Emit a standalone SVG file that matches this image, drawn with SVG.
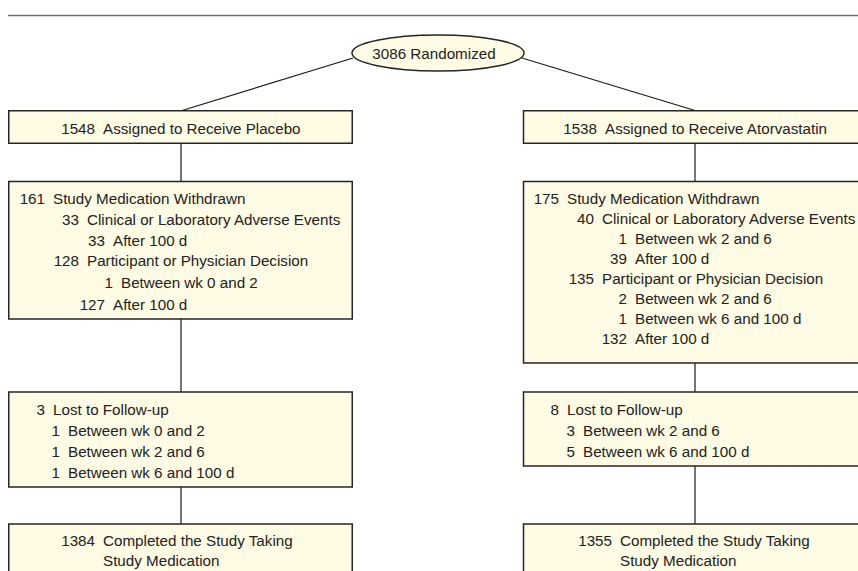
<svg xmlns="http://www.w3.org/2000/svg" width="858" height="571" viewBox="0 0 858 571">
<style>
.box{fill:#fffbe4;stroke:#262626;stroke-width:1.5}
.ln{stroke:#1a1a1a;stroke-width:1.2;fill:none}
text{font-family:"Liberation Sans",Arial,sans-serif;font-size:15.2px;fill:#222}
.n{text-anchor:end}
</style>
<rect width="858" height="571" fill="#ffffff"/>
<line x1="8" y1="15.5" x2="858" y2="15.5" stroke="#6e6e6e" stroke-width="1.5"/>
<g id="connectors">
<line class="ln" x1="353" y1="58" x2="182" y2="110.5"/>
<line class="ln" x1="522" y1="58" x2="695" y2="110.5"/>
<line class="ln" x1="181" y1="143" x2="181" y2="181"/>
<line class="ln" x1="181" y1="319" x2="181" y2="392"/>
<line class="ln" x1="181" y1="487" x2="181" y2="524"/>
<line class="ln" x1="695" y1="143" x2="695" y2="181"/>
<line class="ln" x1="695" y1="363" x2="695" y2="392"/>
<line class="ln" x1="695" y1="466" x2="695" y2="524"/>
</g>
<g id="randomized">
<ellipse class="box" cx="438" cy="53" rx="86" ry="18"/>
<text x="434" y="58.5" text-anchor="middle">3086 Randomized</text>
</g>
<g id="placebo">
<rect class="box" x="8.75" y="110.75" width="343.5" height="32.5"/>
<text class="n" x="95" y="133.5">1548</text><text x="103" y="133.5">Assigned to Receive Placebo</text>
</g>
<g id="atorvastatin">
<rect class="box" x="523.5" y="110.75" width="340" height="32.5"/>
<text class="n" x="597" y="133.5">1538</text><text x="605" y="133.5">Assigned to Receive Atorvastatin</text>
</g>
<g id="placebo-withdrawn">
<rect class="box" x="8.75" y="181.5" width="343.5" height="137.5"/>
<text class="n" x="45" y="203.5">161</text><text x="53" y="203.5">Study Medication Withdrawn</text>
<text class="n" x="79" y="224.5">33</text><text x="87" y="224.5">Clinical or Laboratory Adverse Events</text>
<text class="n" x="105" y="246">33</text><text x="113" y="246">After 100 d</text>
<text class="n" x="79" y="265.5">128</text><text x="87" y="265.5">Participant or Physician Decision</text>
<text class="n" x="113" y="288">1</text><text x="121" y="288">Between wk 0 and 2</text>
<text class="n" x="105" y="309.5">127</text><text x="113" y="309.5">After 100 d</text>
</g>
<g id="atorvastatin-withdrawn">
<rect class="box" x="523.5" y="181.5" width="340" height="181.5"/>
<text class="n" x="559" y="203.5">175</text><text x="567" y="203.5">Study Medication Withdrawn</text>
<text class="n" x="594" y="223.5">40</text><text x="602" y="223.5">Clinical or Laboratory Adverse Events</text>
<text class="n" x="627" y="243.5">1</text><text x="635" y="243.5">Between wk 2 and 6</text>
<text class="n" x="627" y="263.5">39</text><text x="635" y="263.5">After 100 d</text>
<text class="n" x="594" y="283.5">135</text><text x="602" y="283.5">Participant or Physician Decision</text>
<text class="n" x="627" y="303.5">2</text><text x="635" y="303.5">Between wk 2 and 6</text>
<text class="n" x="627" y="323.5">1</text><text x="635" y="323.5">Between wk 6 and 100 d</text>
<text class="n" x="627" y="343.5">132</text><text x="635" y="343.5">After 100 d</text>
</g>
<g id="placebo-lost">
<rect class="box" x="8.75" y="392" width="343.5" height="95"/>
<text class="n" x="45" y="414.5">3</text><text x="53" y="414.5">Lost to Follow-up</text>
<text class="n" x="60" y="435.5">1</text><text x="68" y="435.5">Between wk 0 and 2</text>
<text class="n" x="60" y="456.5">1</text><text x="68" y="456.5">Between wk 2 and 6</text>
<text class="n" x="60" y="477.5">1</text><text x="68" y="477.5">Between wk 6 and 100 d</text>
</g>
<g id="atorvastatin-lost">
<rect class="box" x="523.5" y="392" width="340" height="74"/>
<text class="n" x="559" y="414.5">8</text><text x="567" y="414.5">Lost to Follow-up</text>
<text class="n" x="575" y="435.5">3</text><text x="583" y="435.5">Between wk 2 and 6</text>
<text class="n" x="575" y="456.5">5</text><text x="583" y="456.5">Between wk 6 and 100 d</text>
</g>
<g id="placebo-completed">
<rect class="box" x="8.75" y="524" width="343.5" height="60"/>
<text class="n" x="95" y="545.5">1384</text><text x="103" y="545.5">Completed the Study Taking</text>
<text x="103" y="565.5">Study Medication</text>
</g>
<g id="atorvastatin-completed">
<rect class="box" x="523.5" y="524" width="340" height="60"/>
<text class="n" x="612" y="545.5">1355</text><text x="620" y="545.5">Completed the Study Taking</text>
<text x="620" y="565.5">Study Medication</text>
</g>
</svg>
